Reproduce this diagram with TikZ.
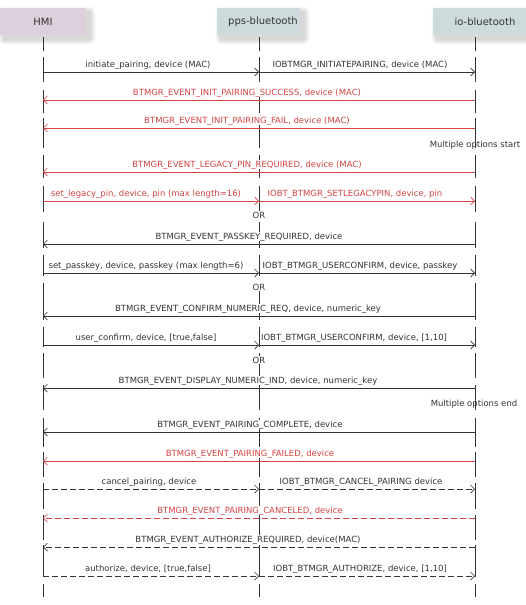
\documentclass[tikz,border=0pt]{standalone}
\usepackage{fontspec}
\setmainfont{DejaVu Sans}
\usetikzlibrary{arrows.meta}
\definecolor{ink}{RGB}{51,51,51}
\definecolor{redmsg}{RGB}{212,68,68}
\definecolor{hmifill}{RGB}{221,208,221}
\definecolor{btfill}{RGB}{205,219,221}
\begin{document}
\begin{tikzpicture}[x=1pt,y=-1pt,
  lifeline/.style={draw=ink, line width=0.8pt},
  msg/.style={draw=ink, line width=0.8pt, -{Straight Barb[length=4pt,width=8pt,line width=0.7pt]}},
  rmsg/.style={msg, draw=redmsg},
  dmsg/.style={msg, dash pattern=on 6pt off 3pt},
  rdmsg/.style={rmsg, dash pattern=on 6pt off 3pt},
  lbl/.style={font=\fontsize{8.5}{10}\selectfont, text=ink, inner sep=0.4pt, fill=white, anchor=base},
  rlbl/.style={lbl, text=redmsg},
  notelbl/.style={font=\fontsize{8.5}{10}\selectfont, text=ink, inner sep=0.4pt, anchor=base},
  hdr/.style={minimum height=27pt, inner sep=0pt, anchor=north west, draw=none},
  hdrtxt/.style={font=\fontsize{10}{12}\selectfont, text=ink, inner sep=0pt}]

\useasboundingbox (0,0) rectangle (526,605);

% soft shadows of the header boxes
\foreach \xa/\xb in {0/86, 217/300, 433/526} {
  \foreach \k in {1,...,6} {
    \fill[black, opacity=0.028, rounded corners=\k pt]
      ({\xa+4-\k*0.9}, {12-\k*0.9}) rectangle ({\xb+4+\k*0.9}, {39+\k*0.9});
  }
}

% header boxes
\node[hdr, fill=hmifill, minimum width=86pt] (hmi) at (0,8) {};
\node[hdr, fill=btfill, minimum width=83pt] (pps) at (217,8) {};
\node[hdr, fill=btfill, minimum width=93pt] (iob) at (433,8) {};
\node[hdrtxt] (hmiT) at (43,22) {HMI};
\node[hdrtxt] (ppsT) at (263,22) {pps-bluetooth};
\node[hdrtxt] (iobT) at (485,22) {io-bluetooth};

% lifelines (broken into row segments)
\foreach \a/\b in {37/51, 57/82, 90/113, 118/148, 155/178, 186/212, 222/248,
                   255/276, 283/320, 327/347, 353/378, 385/410, 418/447,
                   452/477, 483/509, 515/540, 545/577, 584/597} {
  \draw[lifeline] (43,\a) -- (43,\b);
  \draw[lifeline] (259,\a) -- (259,\b);
  \draw[lifeline] (475,\a) -- (475,\b);
}

% row coordinates on the lifelines
\foreach \i/\y in {1/72, 2/100, 3/128, 5/172, 6/201, 8/244, 9/273, 11/316,
                   12/345, 14/388, 16/432, 17/461, 18/489, 19/518, 20/547, 21/576} {
  \coordinate (h\i) at (43,\y);
  \coordinate (p\i) at (259,\y);
  \coordinate (o\i) at (475,\y);
}

% messages
\draw[msg] (h1) -- (p1);
\draw[msg] (p1) -- (o1);
\node[lbl] (l1a) at (148,67) {initiate\_pairing, device (MAC)};
\node[lbl] (l1b) at (360,67) {IOBTMGR\_INITIATEPAIRING, device (MAC)};

\draw[rmsg] (o2) -- (h2);
\node[rlbl] (l2) at (247,95) {BTMGR\_EVENT\_INIT\_PAIRING\_SUCCESS, device (MAC)};

\draw[rmsg] (o3) -- (h3);
\node[rlbl] (l3) at (247,123) {BTMGR\_EVENT\_INIT\_PAIRING\_FAIL, device (MAC)};

\node[notelbl] (n4) at (475,147) {Multiple options start};

\draw[rmsg] (o5) -- (h5);
\node[rlbl] (l5) at (247,167) {BTMGR\_EVENT\_LEGACY\_PIN\_REQUIRED, device (MAC)};

\draw[rmsg] (h6) -- (p6);
\draw[rmsg] (p6) -- (o6);
\node[rlbl] (l6a) at (146,196) {set\_legacy\_pin, device, pin (max length=16)};
\node[rlbl] (l6b) at (355,196) {IOBT\_BTMGR\_SETLEGACYPIN, device, pin};

\node[lbl] (or7) at (259,218) {OR};

\draw[msg] (o8) -- (h8);
\node[lbl] (l8) at (249,239) {BTMGR\_EVENT\_PASSKEY\_REQUIRED, device};

\draw[msg] (h9) -- (p9);
\draw[msg] (p9) -- (o9);
\node[lbl] (l9a) at (146,268) {set\_passkey, device, passkey (max length=6)};
\node[lbl] (l9b) at (360,268) {IOBT\_BTMGR\_USERCONFIRM, device, passkey};

\node[lbl] (or10) at (259,290) {OR};

\draw[msg] (o11) -- (h11);
\node[lbl] (l11) at (248,311) {BTMGR\_EVENT\_CONFIRM\_NUMERIC\_REQ, device, numeric\_key};

\draw[msg] (h12) -- (p12);
\draw[msg] (p12) -- (o12);
\node[lbl] (l12a) at (146,340) {user\_confirm, device, [true,false]};
\node[lbl] (l12b) at (354,340) {IOBT\_BTMGR\_USERCONFIRM, device, [1,10]};

\node[lbl] (or13) at (259,363) {OR};

\draw[msg] (o14) -- (h14);
\node[lbl] (l14) at (248,383) {BTMGR\_EVENT\_DISPLAY\_NUMERIC\_IND, device, numeric\_key};

\node[notelbl] (n15) at (474,406) {Multiple options end};

\draw[msg] (o16) -- (h16);
\node[lbl] (l16) at (250,427) {BTMGR\_EVENT\_PAIRING\_COMPLETE, device};

\draw[rmsg] (o17) -- (h17);
\node[rlbl] (l17) at (250,456) {BTMGR\_EVENT\_PAIRING\_FAILED, device};

\draw[dmsg] (h18) -- (p18);
\draw[dmsg] (p18) -- (o18);
\node[lbl] (l18a) at (149,484) {cancel\_pairing, device};
\node[lbl] (l18b) at (361,484) {IOBT\_BTMGR\_CANCEL\_PAIRING device};

\draw[rdmsg] (o19) -- (h19);
\node[rlbl] (l19) at (250,513) {BTMGR\_EVENT\_PAIRING\_CANCELED, device};

\draw[dmsg] (o20) -- (h20);
\node[lbl] (l20) at (248,542) {BTMGR\_EVENT\_AUTHORIZE\_REQUIRED, device(MAC)};

\draw[dmsg] (h21) -- (p21);
\draw[dmsg] (p21) -- (o21);
\node[lbl] (l21a) at (148,571) {authorize, device, [true,false]};
\node[lbl] (l21b) at (360,571) {IOBT\_BTMGR\_AUTHORIZE, device, [1,10]};

\end{tikzpicture}
\end{document}
